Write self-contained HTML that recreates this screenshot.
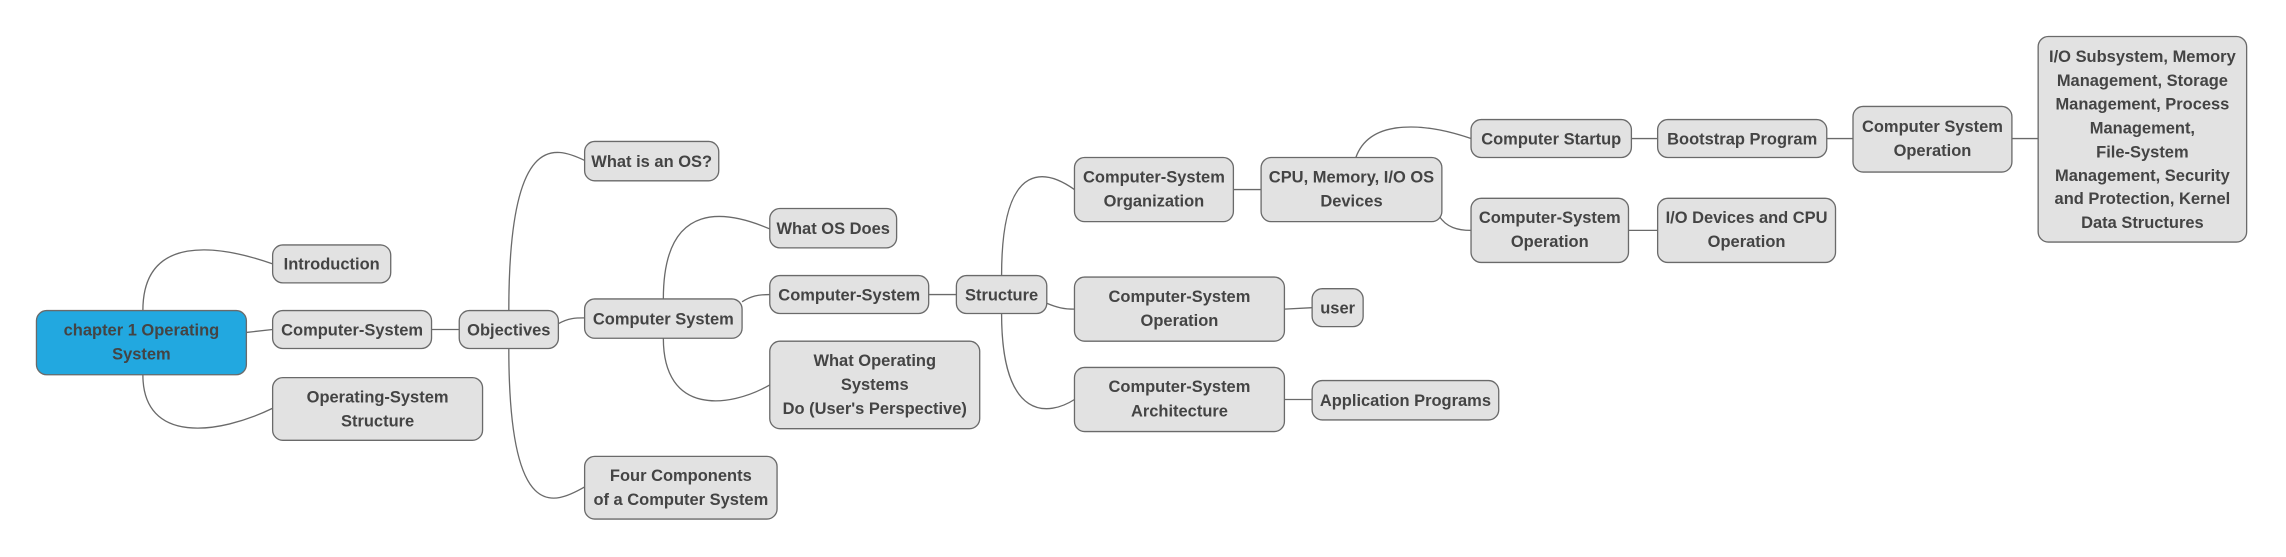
<!DOCTYPE html>
<html><head><meta charset="utf-8"><style>
html,body{margin:0;padding:0;background:#fff;}
svg{display:block;}
text{font-family:"Liberation Sans","DejaVu Sans",sans-serif;font-weight:bold;font-size:11.3px;fill:#444;text-anchor:middle;}
rect{fill:#e2e2e2;stroke:#6a6a6a;stroke-width:0.9;}
path,line{fill:none;stroke:#6a6a6a;stroke-width:0.9;}
</style></head><body>
<svg width="2286" height="557" viewBox="0 0 1568 382" xmlns="http://www.w3.org/2000/svg">
<!-- connectors -->
<path d="M98,213 C98,160 150,168 187,181"/>
<line x1="169" y1="228" x2="187" y2="226"/>
<path d="M98,257 C98,305 150,298 187,280"/>
<line x1="296" y1="226" x2="315" y2="226"/>
<path d="M349,213 C349,90 380,100 401,110"/>
<path d="M383,222 C390,218 395,218 401,218"/>
<path d="M349,239 C349,360 380,346 401,334"/>
<path d="M455,205 C455,135 500,145 528,157"/>
<path d="M509,207 C515,203 520,202 528,202"/>
<path d="M455,232 C455,285 500,280 528,264"/>
<line x1="637" y1="202" x2="656" y2="202"/>
<path d="M687,189 C687,105 720,118 737,130"/>
<path d="M718,208 C725,211 730,212 737,212"/>
<path d="M687,215 C687,290 720,285 737,274"/>
<line x1="846" y1="130" x2="865" y2="130"/>
<path d="M930,108 C940,80 980,85 1009,95"/>
<path d="M987,148 C992,156 1000,158 1009,158"/>
<line x1="1119" y1="95" x2="1137" y2="95"/>
<line x1="1253" y1="95" x2="1271" y2="95"/>
<line x1="1380" y1="95" x2="1398" y2="95"/>
<line x1="1117" y1="158" x2="1137" y2="158"/>
<line x1="881" y1="212" x2="900" y2="211"/>
<line x1="881" y1="274" x2="900" y2="274"/>

<!-- nodes -->
<rect x="25" y="213" width="144" height="44" rx="7" style="fill:#22a8e0"/>
<text x="97" y="230">chapter 1 Operating</text><text x="97" y="246.5">System</text>

<rect x="187" y="168" width="81" height="26" rx="7"/><text x="227.5" y="185">Introduction</text>
<rect x="187" y="213" width="109" height="26" rx="7"/><text x="241.5" y="230">Computer-System</text>
<rect x="187" y="259" width="144" height="43" rx="7"/><text x="259" y="276">Operating-System</text><text x="259" y="292.5">Structure</text>

<rect x="315" y="213" width="68" height="26" rx="7"/><text x="349" y="230">Objectives</text>

<rect x="401" y="97" width="92" height="27" rx="7"/><text x="447" y="114.5">What is an OS?</text>
<rect x="401" y="205" width="108" height="27" rx="7"/><text x="455" y="222.5">Computer System</text>
<rect x="401" y="313" width="132" height="43" rx="7"/><text x="467" y="330">Four Components</text><text x="467" y="346.5">of a Computer System</text>

<rect x="528" y="143" width="87" height="27" rx="7"/><text x="571.5" y="160.5">What OS Does</text>
<rect x="528" y="189" width="109" height="26" rx="7"/><text x="582.5" y="206">Computer-System</text>
<rect x="528" y="234" width="144" height="60" rx="7"/><text x="600" y="251">What Operating</text><text x="600" y="267.5">Systems</text><text x="600" y="284">Do (User's Perspective)</text>

<rect x="656" y="189" width="62" height="26" rx="7"/><text x="687" y="206">Structure</text>

<rect x="737" y="108" width="109" height="44" rx="7"/><text x="791.5" y="125">Computer-System</text><text x="791.5" y="141.5">Organization</text>
<rect x="737" y="190" width="144" height="44" rx="7"/><text x="809" y="207">Computer-System</text><text x="809" y="223.5">Operation</text>
<rect x="737" y="252" width="144" height="44" rx="7"/><text x="809" y="269">Computer-System</text><text x="809" y="285.5">Architecture</text>

<rect x="865" y="108" width="124" height="44" rx="7"/><text x="927" y="125">CPU, Memory, I/O OS</text><text x="927" y="141.5">Devices</text>
<rect x="900" y="198" width="35" height="26" rx="7"/><text x="917.5" y="215">user</text>
<rect x="900" y="261" width="128" height="27" rx="7"/><text x="964" y="278.5">Application Programs</text>

<rect x="1009" y="82" width="110" height="26" rx="7"/><text x="1064" y="99">Computer Startup</text>
<rect x="1009" y="136" width="108" height="44" rx="7"/><text x="1063" y="153">Computer-System</text><text x="1063" y="169.5">Operation</text>
<rect x="1137" y="82" width="116" height="26" rx="7"/><text x="1195" y="99">Bootstrap Program</text>
<rect x="1137" y="136" width="122" height="44" rx="7"/><text x="1198" y="153">I/O Devices and CPU</text><text x="1198" y="169.5">Operation</text>
<rect x="1271" y="73" width="109" height="45" rx="7"/><text x="1325.5" y="90.5">Computer System</text><text x="1325.5" y="107">Operation</text>

<rect x="1398" y="25" width="143" height="141" rx="7"/>
<text x="1469.5" y="42.5">I/O Subsystem, Memory</text>
<text x="1469.5" y="59">Management, Storage</text>
<text x="1469.5" y="75">Management, Process</text>
<text x="1469.5" y="91.5">Management,</text>
<text x="1469.5" y="108">File-System</text>
<text x="1469.5" y="124">Management, Security</text>
<text x="1469.5" y="140">and Protection, Kernel</text>
<text x="1469.5" y="156.5">Data Structures</text>
</svg>
</body></html>
